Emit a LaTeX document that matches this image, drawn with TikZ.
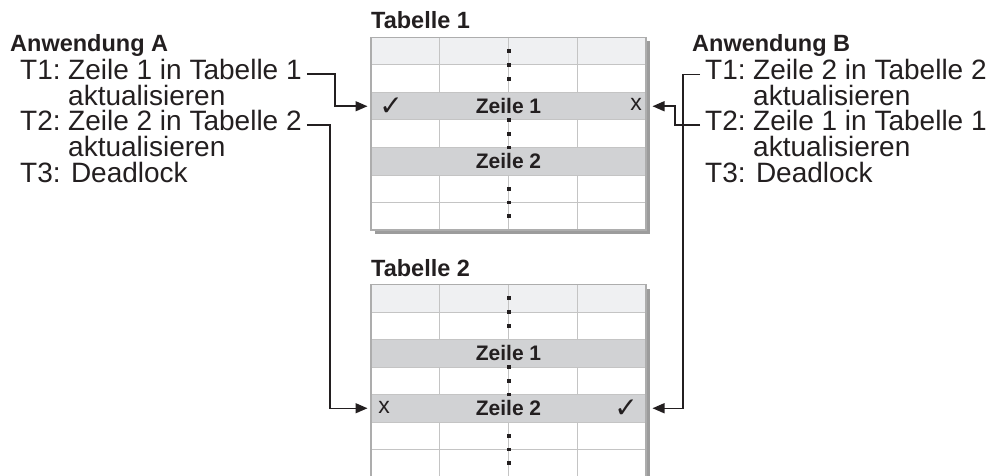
\documentclass[tikz,border=0pt]{standalone}
\usepackage{fontspec}
\setmainfont{Liberation Sans}
\newfontfamily\symfont{DejaVu Sans}
\usetikzlibrary{arrows.meta}
\definecolor{ink}{HTML}{231F20}
\definecolor{gridc}{HTML}{C4C4C4}
\definecolor{hdr}{HTML}{EFF0F2}
\definecolor{rowg}{HTML}{D1D2D4}
\definecolor{shad}{HTML}{9C9C9C}
\definecolor{framec}{HTML}{ADADAD}
\newcommand\drawgrid[1]{%
  \fill[shad] (375,#1+4) rectangle (650,#1+196.5);
  \fill[white] (371,#1) rectangle (646,#1+192.5);
  \fill[hdr] (371,#1) rectangle (646,#1+27.5);
  \foreach \k in {1,2,3} \draw[gridline] (371+68.75*\k,#1) -- (371+68.75*\k,#1+192.5);
  \foreach \r in {1,...,6} \draw[gridline] (371,#1+27.5*\r) -- (646,#1+27.5*\r);
}
\newcommand\drawframe[1]{\draw[framec,line width=1.2pt] (371,#1) rectangle (646,#1+192.5);}
\newcommand\drawdots[1]{\foreach \r in {0.5,1,1.5,3,3.5,4,5.5,6,6.5} \fill[ink] (508.7-1.8,#1+27.5*\r-1.8) rectangle ++(3.6,3.6);}
\tikzset{
  gridline/.style={gridc,line width=1pt},
  zrow/.style={fill=rowg,draw=gridc,line width=1pt,minimum width=275pt,minimum height=27.5pt,inner sep=0pt,text=ink,font=\bfseries\fontsize{21}{21}\selectfont},
  head/.style={inner sep=0pt,anchor=base west,text=ink,font=\bfseries\fontsize{23.5}{23.5}\selectfont},
  txt/.style={inner sep=0pt,anchor=base west,text=ink,font=\fontsize{28}{28}\selectfont},
  marker/.style={inner sep=0pt,text=ink},
  conn/.style={draw=ink,line width=1.5pt,-{Triangle[length=12pt,width=10pt]}},
}
\begin{document}
\begin{tikzpicture}[x=1pt,y=-1pt]
\useasboundingbox (0,0) rectangle (1006,476);
\clip (0,0) rectangle (1006,476);
% Tabelle 1
\node[head] (tab1) at (371,29) {Tabelle 1};
\drawgrid{37.5}
\node[zrow] (t1z1) at (508.5,106.25) {Zeile 1};
\node[zrow] (t1z2) at (508.5,161.25) {Zeile 2};
\drawdots{37.5}
\drawframe{37.5}
\node[marker,font=\symfont\fontsize{28}{28}\selectfont] (t1chk) at (391,106.5) {✓};
\node[marker,font=\fontsize{23}{23}\selectfont] (t1x) at (636,104.5) {x};
% Tabelle 2
\node[head] (tab2) at (371,276) {Tabelle 2};
\drawgrid{284.5}
\node[zrow] (t2z1) at (508.5,353.25) {Zeile 1};
\node[zrow] (t2z2) at (508.5,408.25) {Zeile 2};
\drawdots{284.5}
\drawframe{284.5}
\node[marker,font=\fontsize{23}{23}\selectfont] (t2x) at (384,407) {x};
\node[marker,font=\symfont\fontsize{28}{28}\selectfont] (t2chk) at (626,408.5) {✓};
% Anwendung A
\node[head] (appA) at (10,52) {Anwendung A};
\node[txt] (a1l) at (20,80) {T1:};
\node[txt] (a1) at (68,80) {Zeile 1 in Tabelle 1};
\node[txt] (a1b) at (68,105.5) {aktualisieren};
\node[txt] (a2l) at (20,131) {T2:};
\node[txt] (a2) at (68,131) {Zeile 2 in Tabelle 2};
\node[txt] (a2b) at (68,156.5) {aktualisieren};
\node[txt] (a3) at (20,182) {T3: Deadlock};
% Anwendung B
\node[head] (appB) at (692,52) {Anwendung B};
\node[txt] (b1l) at (705,80) {T1:};
\node[txt] (b1) at (753,80) {Zeile 2 in Tabelle 2};
\node[txt] (b1b) at (753,105.5) {aktualisieren};
\node[txt] (b2l) at (705,131) {T2:};
\node[txt] (b2) at (753,131) {Zeile 1 in Tabelle 1};
\node[txt] (b2b) at (753,156.5) {aktualisieren};
\node[txt] (b3) at (705,182) {T3: Deadlock};
% connectors
\coordinate (ka1) at (335,106.25);
\coordinate (ka2) at (330,408.25);
\coordinate (kb1) at (683,408.25);
\coordinate (kb2) at (675,106.25);
\draw[conn,shorten >=3pt] ([xshift=5pt,yshift=-4pt]a1.east) -| (ka1) -- (t1z1.west);
\draw[conn,shorten >=3pt] ([xshift=5pt,yshift=-4pt]a2.east) -| (ka2) -- (t2z2.west);
\draw[conn,shorten >=6pt] ([xshift=-5pt,yshift=-4pt]b1l.west) -| (kb1) -- (t2z2.east);
\draw[conn,shorten >=6pt] ([xshift=-5pt,yshift=-4pt]b2l.west) -| (kb2) -- (t1z1.east);
\end{tikzpicture}
\end{document}
